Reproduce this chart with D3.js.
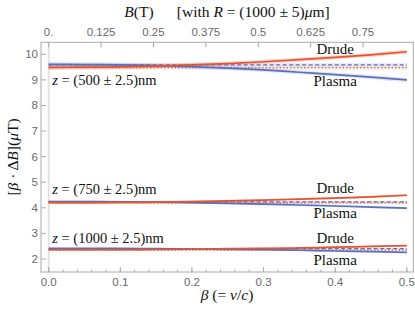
<!DOCTYPE html>
<html>
<head>
<meta charset="utf-8">
<script src="https://cdn.jsdelivr.net/npm/d3@7"></script>
<style>
  body { margin: 0; background: #fff; }
  .tick-label { font-family: "Liberation Sans", Arial, sans-serif; font-size: 11.5px; fill: #6a6a6a; }
  .serif { font-family: "Liberation Serif", "Times New Roman", serif; fill: #111; }
</style>
</head>
<body>
<script>
const betas = [0, 0.05, 0.1, 0.15, 0.2, 0.25, 0.3, 0.35, 0.4, 0.45, 0.5];

// three separations z (nm)
const zLabels = ['500', '750', '1000'];

// Drude curves
const drude500  = [9.49, 9.50, 9.51, 9.54, 9.59, 9.64, 9.71, 9.79, 9.88, 9.98, 10.10];
const drude750  = [4.20, 4.20, 4.21, 4.22, 4.24, 4.27, 4.30, 4.34, 4.38, 4.43, 4.49];
const drude1000 = [2.36, 2.36, 2.36, 2.37, 2.38, 2.40, 2.41, 2.43, 2.46, 2.49, 2.52];

// Plasma curves
const plasma500  = [9.61, 9.60, 9.59, 9.56, 9.52, 9.46, 9.39, 9.30, 9.21, 9.11, 9.00];
const plasma750  = [4.24, 4.24, 4.23, 4.22, 4.20, 4.17, 4.14, 4.11, 4.07, 4.03, 3.99];
const plasma1000 = [2.41, 2.41, 2.41, 2.40, 2.39, 2.37, 2.36, 2.34, 2.31, 2.29, 2.26];

// static (beta -> 0) reference values, dotted = Drude, dashed = Plasma
const drudeStatic  = [9.48, 4.19, 2.35];
const plasmaStatic = [9.59, 4.23, 2.40];

// half width of the shaded bands (z +- 2.5 nm)
const bandHalf = [0.08, 0.045, 0.03];

// label positions in data units (baseline)
const zLabelY      = [8.80, 4.54, 2.62];
const drudeLabelY  = [10.01, 4.58, 2.62];
const plasmaLabelY = [8.76, 3.60, 1.76];

const xTicks = [0, 0.1, 0.2, 0.3, 0.4, 0.5];
const yTicks = [2, 3, 4, 5, 6, 7, 8, 9, 10];
const bTicks = [0, 0.125, 0.25, 0.375, 0.5, 0.625, 0.75];
const bTickLabels = ['0.', '0.125', '0.25', '0.375', '0.5', '0.625', '0.75'];
const teslaPerBeta = 1.709;

const drudeColor = '#e8532b';
const plasmaColor = '#5670c4';
const frameColor = '#aaa';

const W = 415, H = 315;
const mLeft = 41, mRight = 413.3, mTop = 42.3, mBottom = 272;

const svg = d3.select('body').append('svg')
	.attr('width', W)
	.attr('height', H);

const x = d3.scaleLinear().domain([-0.0107, 0.509]).range([mLeft, mRight]);
const y = d3.scaleLinear().domain([1.49, 10.47]).range([mBottom, mTop]);
const xb = d3.scaleLinear()
	.domain(x.domain().map(d => d * teslaPerBeta))
	.range([mLeft, mRight]);

const plot = svg.append('g');

// faint line at beta = 0
plot.append('line')
	.attr('x1', x(0)).attr('x2', x(0))
	.attr('y1', mTop).attr('y2', mBottom)
	.style('stroke', '#e2e2e2')
	.style('stroke-width', '2px');

const series = [
	{ drude: drude500, plasma: plasma500 },
	{ drude: drude750, plasma: plasma750 },
	{ drude: drude1000, plasma: plasma1000 }
];

const line = d3.line()
	.x(d => x(d[0]))
	.y(d => y(d[1]))
	.curve(d3.curveMonotoneX);

const area = d3.area()
	.x(d => x(d[0]))
	.y0(d => y(d[1] - d[2]))
	.y1(d => y(d[1] + d[2]))
	.curve(d3.curveMonotoneX);

series.forEach(function(s, i) {
	const h = bandHalf[i];
	const dPts = betas.map((b, j) => [b, s.drude[j], h]);
	const pPts = betas.map((b, j) => [b, s.plasma[j], h]);
	const dStat = betas.map(b => [b, drudeStatic[i], h]);
	const pStat = betas.map(b => [b, plasmaStatic[i], h]);

	// bands
	plot.append('path').attr('d', area(pStat))
		.style('fill', plasmaColor).style('opacity', 0.12);
	plot.append('path').attr('d', area(dStat))
		.style('fill', '#c9a58f').style('opacity', 0.2);
	plot.append('path').attr('d', area(pPts))
		.style('fill', plasmaColor).style('opacity', 0.18);
	plot.append('path').attr('d', area(dPts))
		.style('fill', drudeColor).style('opacity', 0.22);

	// static reference lines
	plot.append('path').attr('d', line(pStat))
		.style('fill', 'none').style('stroke', plasmaColor)
		.style('stroke-width', '1.3px').style('stroke-dasharray', '4,2.5');
	plot.append('path').attr('d', line(dStat))
		.style('fill', 'none').style('stroke', drudeColor)
		.style('stroke-width', '1.3px').style('stroke-dasharray', '1.3,2.2');

	// curves
	plot.append('path').attr('d', line(pPts))
		.style('fill', 'none').style('stroke', plasmaColor).style('stroke-width', '1.7px');
	plot.append('path').attr('d', line(dPts))
		.style('fill', 'none').style('stroke', drudeColor).style('stroke-width', '1.7px');

	// labels
	const zt = plot.append('text').attr('class', 'serif')
		.attr('x', x(0.005)).attr('y', y(zLabelY[i]))
		.style('font-size', '14.5px');
	zt.append('tspan').style('font-style', 'italic').text('z');
	zt.append('tspan').text(' = (' + zLabels[i] + ' \u00b1 2.5)nm');

	plot.append('text').attr('class', 'serif')
		.attr('x', x(0.4)).attr('y', y(drudeLabelY[i]))
		.attr('text-anchor', 'middle')
		.style('font-size', '15px')
		.text('Drude');

	plot.append('text').attr('class', 'serif')
		.attr('x', x(0.4)).attr('y', y(plasmaLabelY[i]))
		.attr('text-anchor', 'middle')
		.style('font-size', '15px')
		.text('Plasma');
});

// frame
svg.append('rect')
	.attr('x', mLeft).attr('y', mTop)
	.attr('width', mRight - mLeft).attr('height', mBottom - mTop)
	.style('fill', 'none')
	.style('stroke', frameColor)
	.style('stroke-width', '1px');

// bottom ticks (inward) with minor ticks
const minorX = d3.range(0, 0.5001, 0.02);
svg.selectAll('.minor-x')
	.data(minorX)
	.enter().append('line')
	.attr('x1', d => x(d)).attr('x2', d => x(d))
	.attr('y1', mBottom).attr('y2', mBottom - 2.5)
	.style('stroke', frameColor);

svg.selectAll('.major-x')
	.data(xTicks)
	.enter().append('line')
	.attr('x1', d => x(d)).attr('x2', d => x(d))
	.attr('y1', mBottom).attr('y2', mBottom - 5)
	.style('stroke', frameColor);

svg.selectAll('.xlab')
	.data(xTicks)
	.enter().append('text')
	.attr('class', 'tick-label')
	.attr('x', d => x(d))
	.attr('y', mBottom + 14)
	.attr('text-anchor', 'middle')
	.text(d => d3.format('.1f')(d));

// left ticks
svg.selectAll('.major-y')
	.data(yTicks)
	.enter().append('line')
	.attr('x1', mLeft).attr('x2', mLeft + 5)
	.attr('y1', d => y(d)).attr('y2', d => y(d))
	.style('stroke', frameColor);

svg.selectAll('.ylab')
	.data(yTicks)
	.enter().append('text')
	.attr('class', 'tick-label')
	.attr('x', mLeft - 3)
	.attr('y', d => y(d) + 4)
	.attr('text-anchor', 'end')
	.text(d => d);

// top ticks in tesla
svg.selectAll('.major-b')
	.data(bTicks)
	.enter().append('line')
	.attr('x1', d => xb(d)).attr('x2', d => xb(d))
	.attr('y1', mTop).attr('y2', mTop + 5)
	.style('stroke', frameColor);

svg.selectAll('.blab')
	.data(bTicks)
	.enter().append('text')
	.attr('class', 'tick-label')
	.attr('x', d => xb(d))
	.attr('y', mTop - 6)
	.attr('text-anchor', 'middle')
	.text((d, i) => bTickLabels[i]);

// title
const title = svg.append('text').attr('class', 'serif')
	.attr('x', 227).attr('y', 17)
	.attr('text-anchor', 'middle')
	.style('font-size', '15.5px');
title.append('tspan').style('font-style', 'italic').text('B');
title.append('tspan').text('(T)\u2003\u2002[with ');
title.append('tspan').style('font-style', 'italic').text('R');
title.append('tspan').text(' = (1000 \u00b1 5)');
title.append('tspan').style('font-style', 'italic').text('\u03bc');
title.append('tspan').text('m]');

// x label
const xl = svg.append('text').attr('class', 'serif')
	.attr('x', 227).attr('y', 300)
	.attr('text-anchor', 'middle')
	.style('font-size', '15.5px');
xl.append('tspan').style('font-style', 'italic').text('\u03b2');
xl.append('tspan').text(' (= ');
xl.append('tspan').style('font-style', 'italic').text('v');
xl.append('tspan').text('/');
xl.append('tspan').style('font-style', 'italic').text('c');
xl.append('tspan').text(')');

// y label
const yl = svg.append('text').attr('class', 'serif')
	.attr('transform', 'translate(18,157) rotate(-90)')
	.attr('text-anchor', 'middle')
	.style('font-size', '15.5px');
yl.append('tspan').text('[');
yl.append('tspan').style('font-style', 'italic').text('\u03b2');
yl.append('tspan').text(' \u00b7 \u0394');
yl.append('tspan').style('font-style', 'italic').text('B');
yl.append('tspan').text('](');
yl.append('tspan').style('font-style', 'italic').text('\u03bc');
yl.append('tspan').text('T)');
</script>
</body>
</html>
